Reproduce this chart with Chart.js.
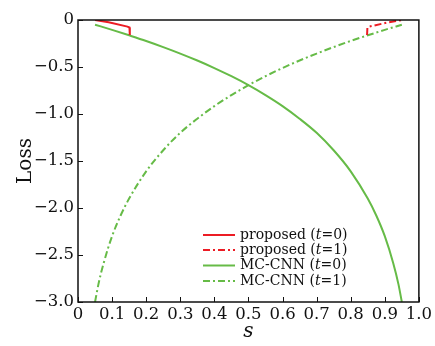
<!DOCTYPE html>
<html><head><meta charset="utf-8">
<script src="https://cdn.jsdelivr.net/npm/chart.js@4/dist/chart.umd.min.js"></script>
<style>html,body{margin:0;padding:0;background:#fff}#wrap{width:435px;height:346px}</style>
</head><body><div id="wrap"><canvas id="c" width="435" height="346"></canvas></div>
<script>
// ---- data ----
const xTicks = [0, 0.1, 0.2, 0.3, 0.4, 0.5, 0.6, 0.7, 0.8, 0.9, 1.0];
const xTickLabels = ['0', '0.1', '0.2', '0.3', '0.4', '0.5', '0.6', '0.7', '0.8', '0.9', '1.0'];
const yTicks = [0, -0.5, -1.0, -1.5, -2.0, -2.5, -3.0];
const yTickLabels = ['0', '\u22120.5', '\u22121.0', '\u22121.5', '\u22122.0', '\u22122.5', '\u22123.0'];

const mcT0S = [0.05, 0.10, 0.15, 0.20, 0.25, 0.30, 0.35, 0.40, 0.45, 0.50, 0.55, 0.60, 0.65, 0.70, 0.75, 0.80, 0.85, 0.875, 0.90, 0.925, 0.94, 0.95];
const mcT0  = [-0.05, -0.105, -0.163, -0.223, -0.288, -0.357, -0.431, -0.511, -0.598, -0.693, -0.799, -0.916, -1.05, -1.20, -1.386, -1.61, -1.90, -2.08, -2.30, -2.59, -2.81, -3.0];
const mcT1S = [0.05, 0.06, 0.075, 0.10, 0.125, 0.15, 0.20, 0.25, 0.30, 0.35, 0.40, 0.45, 0.50, 0.55, 0.60, 0.65, 0.70, 0.75, 0.80, 0.85, 0.90, 0.95];
const mcT1  = [-3.0, -2.81, -2.59, -2.30, -2.08, -1.90, -1.61, -1.386, -1.20, -1.05, -0.916, -0.799, -0.693, -0.598, -0.511, -0.431, -0.357, -0.288, -0.223, -0.163, -0.105, -0.05];
const propT0S = [0.05, 0.09, 0.145, 0.151, 0.152];
const propT0  = [0.0, -0.025, -0.07, -0.08, -0.16];
const propT1S = [0.848, 0.849, 0.855, 0.91, 0.95];
const propT1  = [-0.16, -0.08, -0.07, -0.025, 0.0];

const seriesNames = ['proposed', 'proposed', 'MC-CNN', 'MC-CNN'];
const seriesT = ['0', '1', '0', '1'];

const RED = '#ec1c24';
const GREEN = '#66bb47';
const DASHDOT = [7, 3, 2, 3];
const FONT = '"DejaVu Serif", "Liberation Serif", serif';

function pts(xs, ys) { return xs.map((x, i) => ({x: x, y: ys[i]})); }

const framePlugin = {
  id: 'frame',
  afterDraw(chart) {
    const ctx = chart.ctx, a = chart.chartArea;
    const xs = chart.scales.x, ys = chart.scales.y;
    ctx.save();
    ctx.strokeStyle = '#111';
    ctx.lineWidth = 1.5;
    ctx.strokeRect(a.left, a.top, a.right - a.left, a.bottom - a.top);
    ctx.lineWidth = 1;
    ctx.beginPath();
    xTicks.forEach(v => {
      const px = Math.round(xs.getPixelForValue(v)) + 0.5;
      ctx.moveTo(px, a.bottom); ctx.lineTo(px, a.bottom - 5);
    });
    yTicks.forEach(v => {
      const py = Math.round(ys.getPixelForValue(v)) + 0.5;
      ctx.moveTo(a.left, py); ctx.lineTo(a.left + 5, py);
    });
    ctx.stroke();

    // legend
    const lx0 = 203, lx1 = 235, tx = 240;
    const rowsY = [235, 250, 265.5, 281];
    ctx.textBaseline = 'middle';
    chart.data.datasets.forEach((ds, i) => {
      const y = rowsY[i];
      ctx.strokeStyle = ds.borderColor;
      ctx.lineWidth = 2;
      ctx.setLineDash(ds.borderDash || []);
      ctx.beginPath(); ctx.moveTo(lx0, y); ctx.lineTo(lx1, y); ctx.stroke();
      ctx.setLineDash([]);
      ctx.fillStyle = '#111';
      let x = tx;
      const parts = [[seriesNames[i] + ' (', 'normal'], ['t', 'italic'], ['=' + seriesT[i] + ')', 'normal']];
      parts.forEach(p => {
        ctx.font = p[1] + ' 14px ' + FONT;
        ctx.fillText(p[0], x, y);
        x += ctx.measureText(p[0]).width;
      });
    });
    ctx.restore();
  }
};

new Chart(document.getElementById('c'), {
  type: 'line',
  data: {
    datasets: [
      {label: 'proposed (t=0)', data: pts(propT0S, propT0), borderColor: RED, borderWidth: 2, pointRadius: 0, tension: 0},
      {label: 'proposed (t=1)', data: pts(propT1S, propT1), borderColor: RED, borderWidth: 2, borderDash: DASHDOT, pointRadius: 0, tension: 0},
      {label: 'MC-CNN (t=0)', data: pts(mcT0S, mcT0), borderColor: GREEN, borderWidth: 2, pointRadius: 0, cubicInterpolationMode: 'monotone'},
      {label: 'MC-CNN (t=1)', data: pts(mcT1S, mcT1), borderColor: GREEN, borderWidth: 2, borderDash: DASHDOT, pointRadius: 0, cubicInterpolationMode: 'monotone'}
    ]
  },
  options: {
    responsive: false,
    devicePixelRatio: 1,
    animation: false,
    layout: {padding: {top: 20, right: 13, left: 0, bottom: 0}},
    plugins: {legend: {display: false}, tooltip: {enabled: false}},
    scales: {
      x: {
        type: 'linear', min: 0, max: 1,
        afterBuildTicks: s => { s.ticks = xTicks.map(v => ({value: v})); },
        afterFit: s => { s.height = 44; },
        grid: {display: false, drawTicks: false},
        border: {display: false},
        ticks: {
          callback: (v, i) => xTickLabels[i],
          maxRotation: 0, autoSkip: false, padding: 3,
          color: '#111', font: {family: FONT, size: 16.5}
        },
        title: {display: true, text: 's', color: '#111', padding: {top: 0, bottom: 2},
                font: {family: FONT, size: 20, style: 'italic'}}
      },
      y: {
        type: 'linear', min: -3, max: 0,
        afterBuildTicks: s => { s.ticks = yTicks.map(v => ({value: v})); },
        afterFit: s => { s.width = 78; },
        grid: {display: false, drawTicks: false},
        border: {display: false},
        ticks: {
          callback: (v, i) => yTickLabels[i],
          autoSkip: false, padding: 4,
          color: '#111', font: {family: FONT, size: 16.5}
        },
        title: {display: true, text: 'Loss', color: '#111', padding: {top: 14, bottom: 0},
                font: {family: FONT, size: 20}}
      }
    }
  },
  plugins: [framePlugin]
});
</script>
</body></html>
